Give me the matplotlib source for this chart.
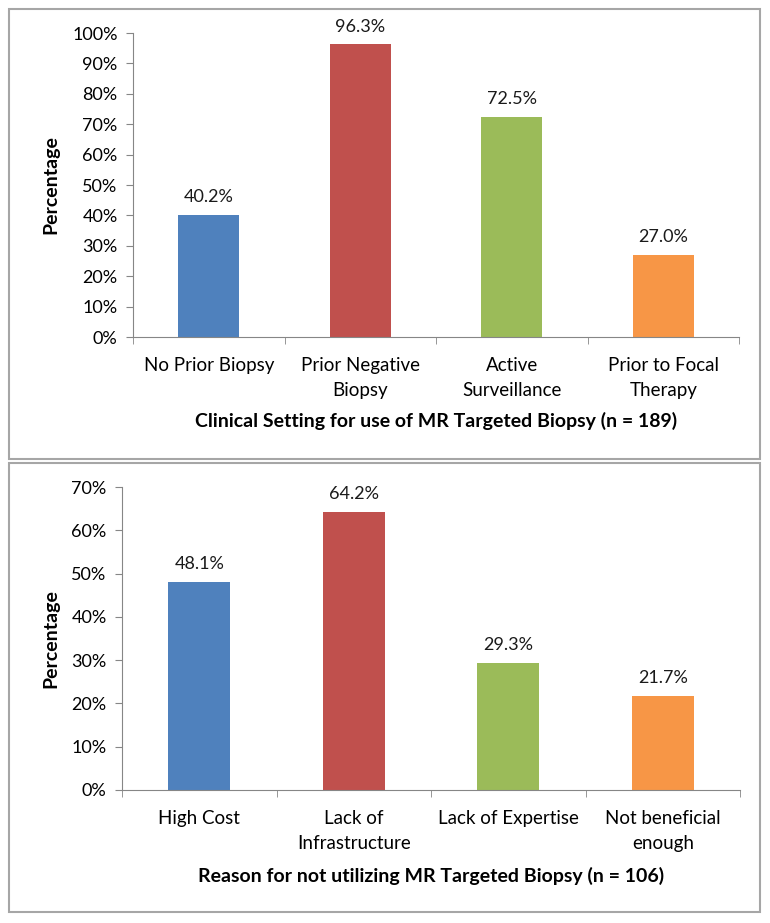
import matplotlib
matplotlib.use("Agg")
import matplotlib.pyplot as plt
from matplotlib.patches import Rectangle
from matplotlib.ticker import FuncFormatter

plt.rcParams['font.family'] = ['Lato', 'DejaVu Sans']

# data
setting_labels = ["No Prior Biopsy", "Prior Negative\nBiopsy", "Active\nSurveillance", "Prior to Focal\nTherapy"]
setting_values = [40.2, 96.3, 72.5, 27.0]
reason_labels = ["High Cost", "Lack of\nInfrastructure", "Lack of Expertise", "Not beneficial\nenough"]
reason_values = [48.1, 64.2, 29.3, 21.7]
bar_colors = ["#4F81BD", "#C0504D", "#9BBB59", "#F79646"]

W, H = 770, 923
fig = plt.figure(figsize=(W / 100, H / 100), dpi=100)
grey = "#868686"


def px_axes(left, right, top, bottom):
    return fig.add_axes([left / W, 1 - bottom / H, (right - left) / W, (bottom - top) / H])


def panel_box(top, bottom):
    fig.patches.append(Rectangle((9 / W, 1 - bottom / H), (760 - 9) / W, (bottom - top) / H,
                                 transform=fig.transFigure, fill=False,
                                 edgecolor="#A6A6A6", linewidth=1.5))


def draw_panel(ax, labels, values, ymax, xlabel, xlabel_y):
    x = list(range(len(values)))
    ax.bar(x, values, color=bar_colors, width=0.4)
    for xi, v in zip(x, values):
        ax.annotate("%.1f%%" % v, (xi, v), xytext=(0, 7), textcoords="offset points",
                    ha="center", va="bottom", fontsize=13, color="#1a1a1a")
    ax.set_xlim(-0.5, len(values) - 0.5)
    ax.set_ylim(0, ymax)
    ax.set_yticks(range(0, ymax + 1, 10))
    ax.yaxis.set_major_formatter(FuncFormatter(lambda v, p: "%d%%" % v))
    ax.set_xticks(x)
    ax.set_xticklabels(labels, fontsize=13.5, linespacing=1.55)
    ax.set_xticks([i + 0.5 for i in range(-1, len(values))], minor=True)
    ax.tick_params(axis="x", which="major", length=0, pad=14.5)
    ax.tick_params(axis="x", which="minor", length=5, color=grey, direction="out")
    ax.tick_params(axis="y", length=5, color=grey, labelsize=13, pad=6)
    for s in ["top", "right"]:
        ax.spines[s].set_visible(False)
    for s in ["left", "bottom"]:
        ax.spines[s].set_color(grey)
    ax.set_ylabel("Percentage", fontsize=14, fontweight="bold", labelpad=9)
    fig.text(ax.get_position().x0 + ax.get_position().width / 2, 1 - xlabel_y / H, xlabel,
             ha="center", va="center", fontsize=14, fontweight="bold")


panel_box(9, 459)
panel_box(463, 912)

ax1 = px_axes(133, 739, 33, 337)
draw_panel(ax1, setting_labels, setting_values, 100,
           "Clinical Setting for use of MR Targeted Biopsy (n = 189)", 421)

ax2 = px_axes(122, 740, 487, 790)
draw_panel(ax2, reason_labels, reason_values, 70,
           "Reason for not utilizing MR Targeted Biopsy (n = 106)", 876)

fig.savefig("out.png", dpi=100)
